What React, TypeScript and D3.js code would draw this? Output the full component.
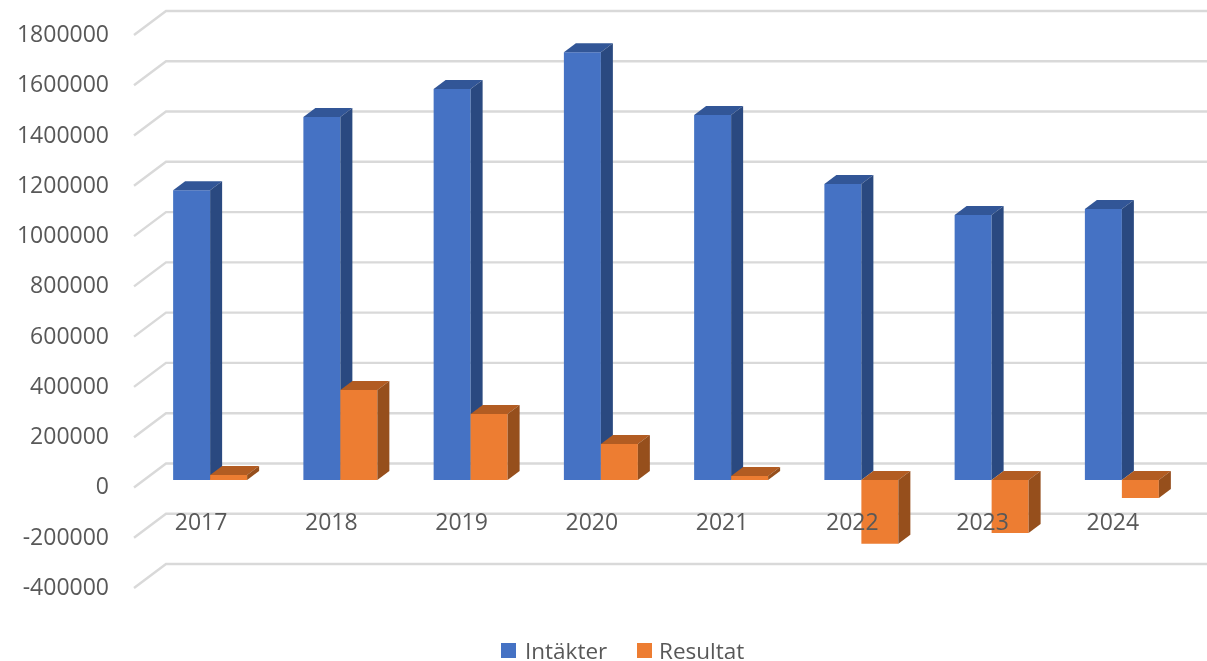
import React from 'react';
import * as d3 from 'd3';

const years = ['2017', '2018', '2019', '2020', '2021', '2022', '2023', '2024'];
const seriesNames = ['Intäkter', 'Resultat'];
const intakter = [1153000, 1444000, 1555000, 1702000, 1452000, 1177000, 1054000, 1078000];
const resultat = [20000, 358000, 262000, 143000, 16000, -254000, -211000, -72000];
const yTicks = [1800000, 1600000, 1400000, 1200000, 1000000, 800000, 600000, 400000, 200000, 0, -200000, -400000];

const width = 1207;
const height = 661;
const font = '"Open Sans", sans-serif';
const textColor = '#595959';

// front, top and side shades of each series
const shades = [
  { front: '#4472C4', top: '#335697', side: '#2A4A80' },
  { front: '#ED7D31', top: '#B25B20', side: '#964F1C' },
];

// y scale of the back wall, bars and labels are shifted forward from it
const y = d3.scaleLinear().domain([-400000, 1800000]).range([564, 11]);
const x = d3.scaleBand().domain(years).range([145, 1187]).paddingInner(0.432).paddingOuter(0.216);
const xSeries = d3.scaleBand().domain(seriesNames).range([0, x.bandwidth()]);

const floor = { dx: -32, dy: 24 }; // wall to front edge of the floor
const barShiftY = 16.5; // wall to front face of the bars
const depth = { dx: 12, dy: -9 }; // depth of one bar

const poly = d3.line();

const Bar = ({ year, name, value, shade }) => {
  const left = x(year) + xSeries(name);
  const right = left + xSeries.bandwidth();
  const top = Math.min(y(value), y(0)) + barShiftY;
  const bottom = Math.max(y(value), y(0)) + barShiftY;
  const { dx, dy } = depth;
  return (
    <g>
      <path fill={shade.front} d={poly([[left, top], [right, top], [right, bottom], [left, bottom]]) + 'Z'} />
      <path fill={shade.top} d={poly([[left, top], [left + dx, top + dy], [right + dx, top + dy], [right, top]]) + 'Z'} />
      <path fill={shade.side} d={poly([[right, top], [right + dx, top + dy], [right + dx, bottom + dy], [right, bottom]]) + 'Z'} />
    </g>
  );
};

const App = () => {
  const legend = [
    { name: seriesNames[0], box: 501, label: 525 },
    { name: seriesNames[1], box: 637, label: 659 },
  ];

  return (
    <svg width={width} height={height} style={{ position: 'absolute', left: 0, top: 0, display: 'block', background: '#fff' }}>
      <defs>
        <filter id="soft" x="-2%" y="-2%" width="104%" height="104%">
          <feGaussianBlur stdDeviation="0.45" />
        </filter>
      </defs>
      <g filter="url(#soft)">
        {/* grid lines: floor edge up to the wall, then along it */}
        {yTicks.map((t) => (
          <path
            key={t}
            fill="none"
            stroke="#D9D9D9"
            strokeWidth={2.4}
            d={poly([[166 + floor.dx, y(t) + floor.dy], [166, y(t)], [width, y(t)]])}
          />
        ))}

        {/* value labels */}
        {yTicks.map((t) => (
          <text
            key={t}
            x={109}
            y={y(t) + floor.dy - 2}
            textAnchor="end"
            dominantBaseline="central"
            fontFamily={font}
            fontSize={23}
            fill={textColor}
          >
            {t}
          </text>
        ))}

        {years.map((year, i) => (
          <g key={year}>
            <Bar year={year} name={seriesNames[0]} value={intakter[i]} shade={shades[0]} />
            <Bar year={year} name={seriesNames[1]} value={resultat[i]} shade={shades[1]} />
          </g>
        ))}

        {/* category labels sit over the bars */}
        {years.map((year) => (
          <text
            key={year}
            x={x(year) + x.bandwidth() / 2 - 9}
            y={521}
            textAnchor="middle"
            dominantBaseline="central"
            fontFamily={font}
            fontSize={23}
            fill={textColor}
          >
            {year}
          </text>
        ))}

        {legend.map((d, i) => (
          <g key={d.name}>
            <rect x={d.box} y={643} width={15} height={15} fill={shades[i].front} />
            <text x={d.label} y={650} dominantBaseline="central" fontFamily={font} fontSize={22.5} fill={textColor}>
              {d.name}
            </text>
          </g>
        ))}
      </g>
    </svg>
  );
};

export default App;
